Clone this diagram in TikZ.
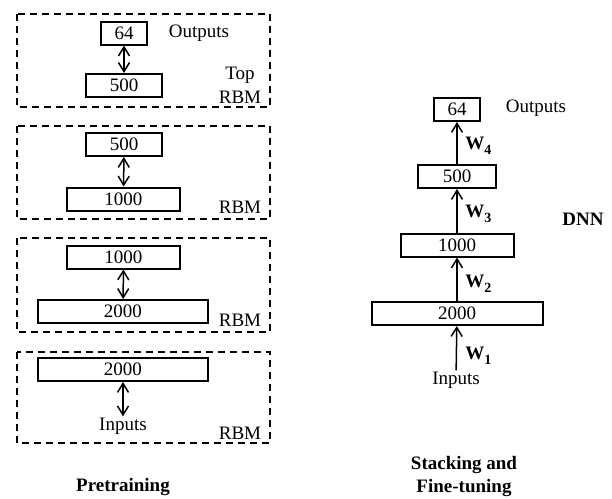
\documentclass[tikz,border=0pt]{standalone}
\usepackage{fontspec}
\setmainfont{Liberation Serif}
\usetikzlibrary{arrows.meta}
\tikzset{
	every node/.style = {font=\fontsize{9.5}{12}\selectfont},
	layer/.style = {draw, line width=1pt, minimum height=11.5pt, inner sep=0pt},
	rbmframe/.style = {draw, line width=0.6pt, dash pattern=on 3.5pt off 2.5pt},
	pairarrow/.style = {line width=0.75pt, {Straight Barb[length=4.5pt,width=5.5pt]}-{Straight Barb[length=4.5pt,width=5.5pt]}},
	uparrow/.style = {line width=0.75pt, -{Straight Barb[length=4.5pt,width=5.5pt]}},
	wlabel/.style = {font=\fontsize{9.5}{12}\selectfont\bfseries, anchor=west, inner sep=0pt}
}
\newcommand{\wsub}[1]{\textbf{W\raisebox{-0.55ex}{\fontsize{7}{8}\selectfont #1}}}

\begin{document}
\begin{tikzpicture}[x=0.5pt, y=-0.5pt]
		\useasboundingbox (0,0) rectangle (612,499);
		% pretraining: dashed frames
		\draw[rbmframe] (17,14) rectangle (270,107);
		\draw[rbmframe] (17,126) rectangle (270,219);
		\draw[rbmframe] (17,238) rectangle (270,332);
		\draw[rbmframe] (17,352) rectangle (270,443);
		% top rbm
		\node[layer, minimum width=23pt] (pa64) at (124,33) {64};
		\node[layer, minimum width=38pt] (pa500) at (124,85.5) {500};
		\draw[pairarrow] (pa64) -- (pa500);
		\node (paout) at (199,33) {Outputs};
		\node[align=center] (patop) at (240,85) {Top\\RBM};
		% second rbm
		\node[layer, minimum width=38pt] (pb500) at (124,144.5) {500};
		\node[layer, minimum width=56.5pt] (pb1000) at (123.5,199) {1000};
		\draw[pairarrow] (pb500) -- (pb1000);
		\node (pbrbm) at (240,207) {RBM};
		% third rbm
		\node[layer, minimum width=56.5pt] (pc1000) at (123.5,257) {1000};
		\node[layer, minimum width=85pt] (pc2000) at (123,311.5) {2000};
		\draw[pairarrow] (pc1000) -- (pc2000);
		\node (pcrbm) at (240,320) {RBM};
		% bottom rbm
		\node[layer, minimum width=85pt] (pd2000) at (123,369.5) {2000};
		\node[inner sep=0.5pt] (pdin) at (123,426) {Inputs};
		\draw[pairarrow] (pd2000) -- (pdin);
		\node (pdrbm) at (240,433) {RBM};
		\node[font=\fontsize{9.5}{12}\selectfont\bfseries] (pretrain) at (123,487) {Pretraining};
		% stacking: dnn
		\node[layer, minimum width=23pt] (d64) at (457,109.5) {64};
		\node[layer, minimum width=39pt] (d500) at (457,176.5) {500};
		\node[layer, minimum width=56.5pt] (d1000) at (457,245) {1000};
		\node[layer, minimum width=85.5pt] (d2000) at (457,313.5) {2000};
		\node[inner sep=0.5pt] (din) at (456,380) {Inputs};
		\draw[uparrow] (din) -- (d2000);
		\draw[uparrow] (d2000) -- (d1000);
		\draw[uparrow] (d1000) -- (d500);
		\draw[uparrow] (d500) -- (d64);
		\node[wlabel] (w4) at (465,146) {\wsub{4}};
		\node[wlabel] (w3) at (465,214) {\wsub{3}};
		\node[wlabel] (w2) at (465,284) {\wsub{2}};
		\node[wlabel] (w1) at (465,356) {\wsub{1}};
		\node (dout) at (536,108) {Outputs};
		\node[font=\fontsize{9.5}{12}\selectfont\bfseries] (dnn) at (583,219) {DNN};
		\node[align=center, font=\fontsize{9.5}{11.5}\selectfont\bfseries] (stack) at (464,476) {Stacking and\\Fine-tuning};
	\end{tikzpicture}
\end{document}
